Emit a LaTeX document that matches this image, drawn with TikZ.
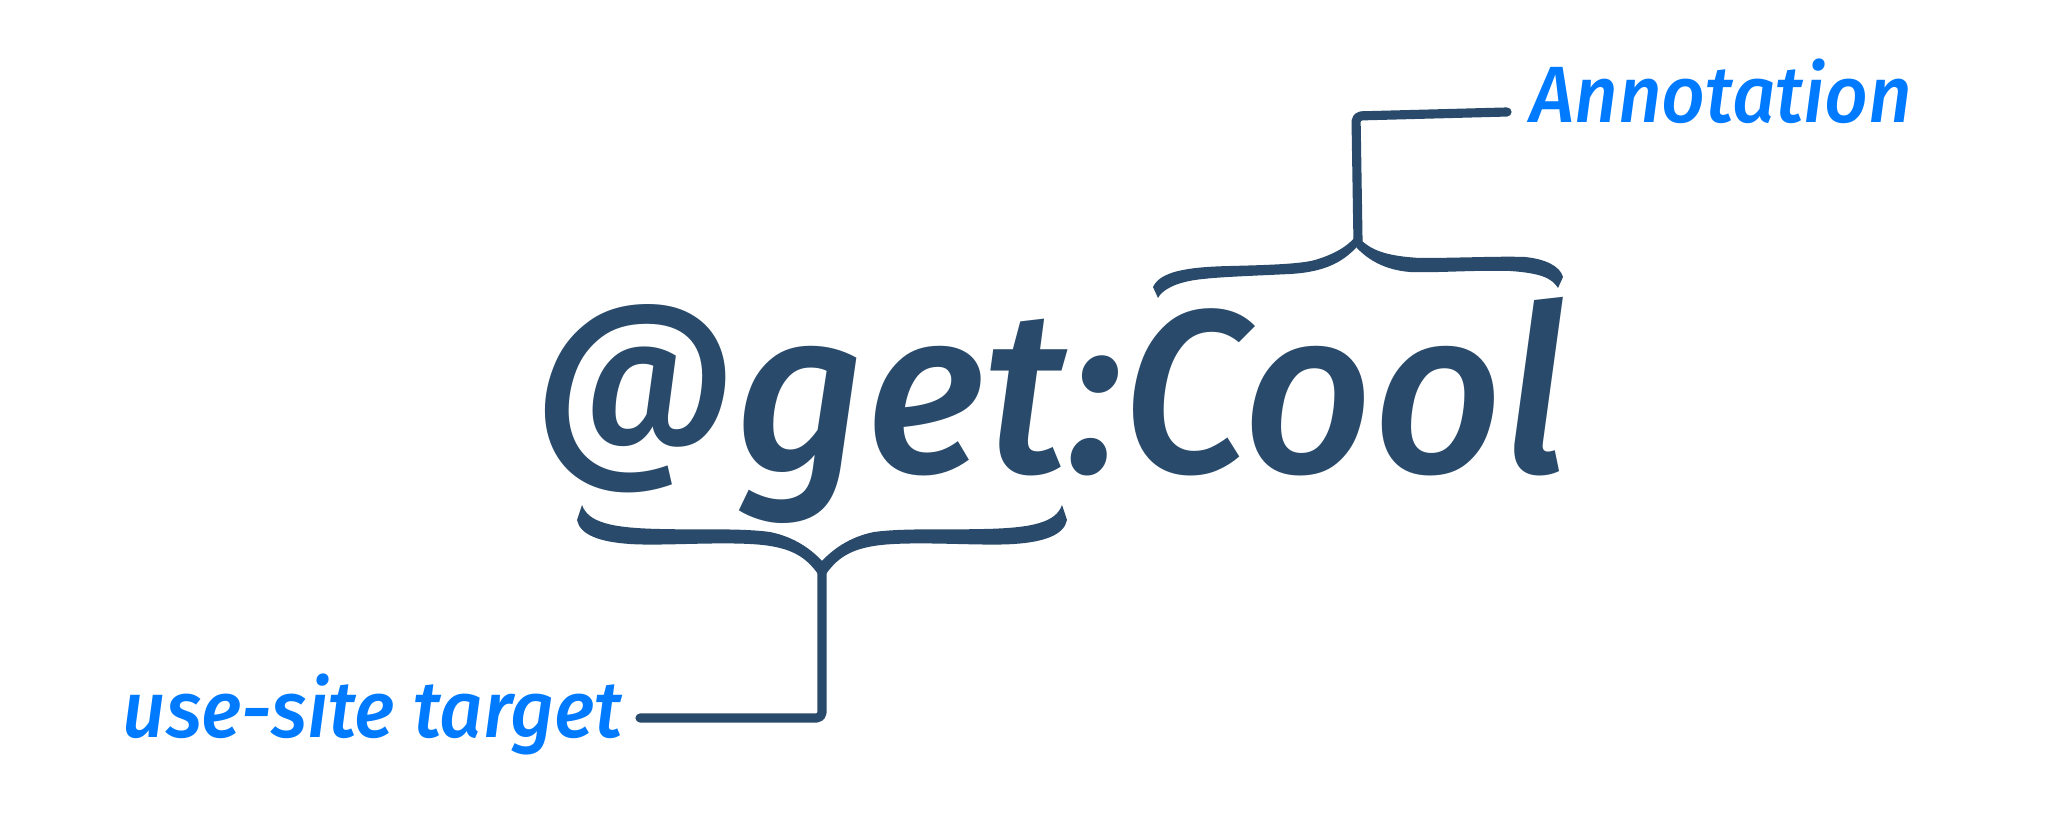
\documentclass[tikz,border=0pt]{standalone}
\usepackage{fontspec}
\setmainfont{Fira Sans}
\newfontfamily\mainfnt{Fira Sans Medium Italic}[FakeStretch=0.97]
\newfontfamily\labelfnt{Fira Sans Medium Italic}[FakeStretch=0.955]
\usetikzlibrary{calc}
\definecolor{navy}{RGB}{41,74,106}
\definecolor{applblue}{RGB}{0,122,255}
\tikzset{
  mainword/.style={inner sep=0pt, text=navy, font=\fontsize{66}{70}\mainfnt},
  labeltext/.style={inner sep=0pt, text=applblue, font=\fontsize{22.7}{26}\labelfnt},
  conn/.style={draw=navy, line width=2.6pt, line cap=round, line join=round, rounded corners=1.5pt},
  bracefill/.style={fill=navy}
}
\begin{document}
\begin{tikzpicture}[x=0.01cm, y=-0.01cm]
\useasboundingbox (0,0) rectangle (2048,840);
\fill[white] (0,0) rectangle (2048,840);

% texts
\node[mainword, anchor=base west] (main) at (535,473) {{\fontsize{58}{60}\selectfont\raisebox{7pt}{@}}get:Cool};
\node[labeltext, anchor=base west] (ann) at (1530,123) {Annotation};
\node[labeltext, anchor=base west] (ust) at (122,737) {use-site target};

% bottom brace (under @get:)
\fill[bracefill] (582,505) .. controls (588,522) and (610,528) .. (660,529)
  .. controls (700,530) and (740,528) .. (770,532)
  .. controls (795,537) and (812,550) .. (823,562)
  -- (818,574)
  .. controls (805,556) and (790,546) .. (750,544)
  .. controls (710,542) and (660,546) .. (630,544)
  .. controls (600,542) and (580,535) .. (577,520) -- cycle;
\fill[bracefill] (1062,505) .. controls (1056,522) and (1034,528) .. (984,529)
  .. controls (944,530) and (904,528) .. (874,532)
  .. controls (849,537) and (832,550) .. (821,562)
  -- (826,574)
  .. controls (839,556) and (854,546) .. (894,544)
  .. controls (934,542) and (984,546) .. (1014,544)
  .. controls (1044,542) and (1064,535) .. (1067,520) -- cycle;

% top brace (over :Cool)
\fill[bracefill] (1153,287) .. controls (1160,272) and (1185,267) .. (1230,266)
  .. controls (1270,265) and (1300,264) .. (1315,260)
  .. controls (1335,254) and (1348,246) .. (1356,236)
  -- (1361,242)
  .. controls (1345,262) and (1325,272) .. (1290,274)
  .. controls (1250,276) and (1215,277) .. (1195,280)
  .. controls (1175,283) and (1162,290) .. (1158,298) -- cycle;
\fill[bracefill] (1358,237) .. controls (1370,250) and (1385,256) .. (1420,258)
  .. controls (1460,258) and (1500,256) .. (1525,257)
  .. controls (1545,259) and (1560,266) .. (1563,277)
  -- (1558,288)
  .. controls (1552,278) and (1540,273) .. (1510,271)
  .. controls (1470,270) and (1440,273) .. (1410,272)
  .. controls (1385,270) and (1368,260) .. (1356,247) -- cycle;

% connector end points
\coordinate (bt) at (822,566);
\coordinate (tt) at (1358,241);
\coordinate (ulend) at (640,718);
\coordinate (alend) at (1507,112);

% connectors
\draw[conn] (bt) -- (822,718) -- (ulend);
\draw[conn] (tt) -- (1356,116) -- (alend);
\end{tikzpicture}
\end{document}
